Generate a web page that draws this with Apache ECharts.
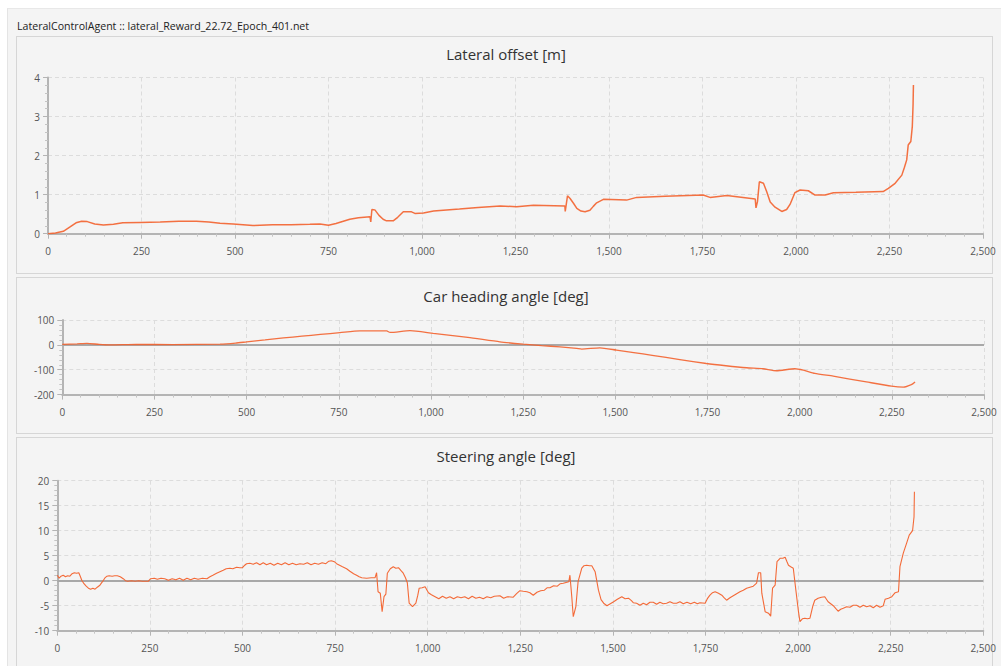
<!DOCTYPE html>
<html>
<head>
<meta charset="utf-8">
<script src="https://cdn.jsdelivr.net/npm/echarts@6/dist/echarts.min.js"></script>
<style>
  html, body { margin: 0; padding: 0; background: #ffffff; width: 1003px; height: 666px; overflow: hidden; font-family: "Open Sans", "Noto Sans", sans-serif; }
  #panel { position: absolute; left: 7px; top: 8px; width: 993px; height: 658px; background: #f4f4f4; border-left: 1px solid #e4e4e4; border-top: 1px solid #e8e8e8; }
  #caption { position: absolute; left: 17px; top: 19px; font-size: 10.6px; color: #222; white-space: nowrap; }
  .box { position: absolute; left: 16px; width: 975px; border: 1px solid #d6d6d6; box-sizing: content-box; }
  #chart { position: absolute; left: 0; top: 0; width: 1003px; height: 666px; }
</style>
</head>
<body>
<div id="panel"></div>
<div id="caption">LateralControlAgent :: lateral_Reward_22.72_Epoch_401.net</div>
<div class="box" style="top:36px;height:236px;"></div>
<div class="box" style="top:277px;height:155px;"></div>
<div class="box" style="top:437px;height:240px;"></div>
<div id="chart"></div>
<script>
// ---- data ----
const chartTitles = ["Lateral offset [m]", "Car heading angle [deg]", "Steering angle [deg]"];
const xTicks = [0, 250, 500, 750, 1000, 1250, 1500, 1750, 2000, 2250, 2500];

const lateralX = [0, 20, 41, 60, 75, 90, 105, 125, 148, 175, 200, 246, 300, 350, 397, 430, 460, 495, 548, 600, 650, 700, 727, 750, 770, 807, 830, 861, 863, 866, 874, 885, 896, 905, 923, 935, 950, 972, 981, 1004, 1031, 1100, 1150, 1209, 1253, 1298, 1382, 1383, 1389, 1396, 1405, 1414, 1425, 1436, 1449, 1458, 1467, 1485, 1547, 1574, 1650, 1752, 1770, 1815, 1891, 1893, 1897, 1902, 1913, 1922, 1931, 1944, 1962, 1975, 1984, 1997, 2011, 2033, 2051, 2078, 2100, 2160, 2233, 2247, 2265, 2283, 2290, 2296, 2300, 2307, 2311, 2313, 2314];
const lateralY = [0.0, 0.02, 0.06, 0.18, 0.28, 0.32, 0.31, 0.25, 0.22, 0.24, 0.28, 0.29, 0.30, 0.32, 0.32, 0.30, 0.27, 0.25, 0.21, 0.23, 0.23, 0.24, 0.25, 0.215, 0.26, 0.37, 0.41, 0.435, 0.30, 0.62, 0.61, 0.47, 0.37, 0.33, 0.33, 0.42, 0.56, 0.56, 0.52, 0.53, 0.58, 0.63, 0.67, 0.71, 0.69, 0.73, 0.71, 0.57, 0.97, 0.90, 0.78, 0.65, 0.58, 0.56, 0.60, 0.70, 0.79, 0.88, 0.86, 0.93, 0.96, 0.99, 0.93, 0.98, 0.89, 0.66, 0.82, 1.33, 1.29, 1.07, 0.81, 0.68, 0.57, 0.62, 0.75, 1.05, 1.12, 1.10, 0.99, 0.99, 1.05, 1.06, 1.08, 1.16, 1.29, 1.50, 1.70, 1.89, 2.27, 2.36, 2.75, 3.30, 3.81];

const headingX = [0, 40, 67, 100, 130, 200, 300, 428, 470, 500, 550, 600, 650, 700, 753, 807, 880, 889, 943, 1006, 1100, 1187, 1250, 1300, 1350, 1395, 1409, 1458, 1503, 1550, 1600, 1675, 1747, 1800, 1856, 1901, 1937, 1987, 2010, 2041, 2091, 2181, 2249, 2281, 2303, 2313];
const headingY = [2, 4, 6, 2, 0, 2, 1, 3, 7, 12, 20, 28, 35, 42, 49, 56, 56, 50, 57, 46, 30, 12, 3, -3, -8, -14, -17, -12, -21, -31, -42, -59, -75, -84, -92, -96, -104, -96, -102, -115, -126, -149, -166, -170, -160, -149];

const steeringX = [0, 5, 10, 16, 22, 28, 34, 40, 46, 52, 58, 62, 66, 72, 78, 84, 90, 96, 102, 108, 115, 122, 128, 134, 140, 148, 155, 162, 170, 178, 184, 190, 200, 210, 220, 230, 246, 252, 262, 270, 280, 290, 300, 310, 320, 330, 340, 350, 360, 370, 380, 392, 404, 412, 420, 430, 439, 448, 456, 466, 474, 484, 493, 500, 506, 511, 520, 529, 538, 547, 556, 565, 575, 585, 595, 605, 615, 625, 635, 645, 655, 665, 675, 685, 695, 705, 715, 725, 733, 740, 748, 754, 762, 770, 781, 790, 800, 808, 815, 822, 835, 848, 858, 862, 866, 872, 877, 882, 887, 891, 899, 907, 914, 921, 928, 934, 940, 945, 950, 959, 968, 973, 977, 985, 993, 1002, 1010, 1020, 1030, 1040, 1050, 1060, 1070, 1080, 1090, 1100, 1110, 1120, 1130, 1140, 1150, 1160, 1170, 1180, 1195, 1205, 1215, 1231, 1240, 1249, 1258, 1268, 1276, 1285, 1295, 1305, 1315, 1323, 1330, 1340, 1350, 1358, 1366, 1376, 1381, 1384, 1389, 1393, 1400, 1406, 1416, 1422, 1429, 1437, 1443, 1452, 1461, 1468, 1475, 1484, 1493, 1502, 1512, 1524, 1533, 1542, 1550, 1555, 1564, 1573, 1582, 1591, 1600, 1609, 1618, 1627, 1636, 1645, 1654, 1663, 1672, 1681, 1690, 1700, 1710, 1720, 1728, 1735, 1749, 1755, 1762, 1769, 1776, 1785, 1794, 1800, 1807, 1816, 1825, 1834, 1843, 1852, 1861, 1870, 1879, 1888, 1893, 1899, 1902, 1911, 1920, 1926, 1931, 1938, 1943, 1952, 1959, 1965, 1970, 1974, 1980, 1987, 1994, 2001, 2005, 2012, 2018, 2025, 2032, 2040, 2045, 2054, 2063, 2072, 2081, 2088, 2095, 2102, 2108, 2115, 2122, 2131, 2140, 2149, 2158, 2167, 2176, 2185, 2194, 2203, 2212, 2221, 2230, 2235, 2244, 2253, 2262, 2271, 2275, 2284, 2293, 2300, 2309, 2313, 2314];
const steeringY = [1.1, 0.5, 0.9, 1.1, 0.8, 1.0, 0.9, 1.4, 1.6, 1.5, 1.6, 0.9, 0.1, -0.6, -1.1, -1.5, -1.7, -1.5, -1.7, -1.3, -0.9, -0.2, 0.5, 0.9, 1.0, 0.9, 1.0, 1.0, 0.8, 0.4, 0.0, -0.1, 0.0, -0.1, 0.0, -0.1, -0.1, 0.4, 0.5, 0.3, 0.5, 0.4, 0.1, 0.4, 0.2, 0.5, 0.1, 0.5, 0.2, 0.5, 0.3, 0.5, 0.4, 0.8, 1.1, 1.5, 1.8, 2.1, 2.4, 2.5, 2.4, 2.7, 2.6, 2.6, 3.1, 3.4, 3.5, 3.3, 3.6, 3.2, 3.6, 3.2, 3.5, 3.1, 3.5, 3.2, 3.6, 3.2, 3.5, 3.2, 3.4, 3.3, 3.6, 3.2, 3.5, 3.3, 3.6, 3.4, 3.9, 4.0, 3.8, 3.4, 3.1, 2.8, 2.4, 1.9, 1.4, 1.1, 0.8, 0.6, 0.5, 0.6, 0.6, 1.6, -2.2, -2.5, -6.2, -3.2, -2.7, 1.5, 2.4, 2.8, 2.5, 2.6, 2.0, 1.5, 0.6, -0.4, -4.5, -5.2, -4.5, -3.0, -1.5, -1.4, -1.2, -2.4, -2.8, -3.2, -3.6, -3.1, -3.5, -3.2, -3.6, -3.2, -3.4, -3.2, -3.6, -3.1, -3.5, -3.3, -3.6, -3.2, -3.4, -3.1, -3.0, -3.5, -3.2, -3.3, -2.6, -2.0, -2.1, -2.2, -2.4, -2.9, -2.3, -2.0, -1.9, -1.4, -1.4, -1.0, -1.1, -0.6, -0.5, -0.3, -0.2, 1.1, -3.2, -7.2, -5.2, -0.2, 2.5, 3.0, 3.1, 3.0, 3.0, 1.8, -1.9, -3.8, -4.5, -5.0, -4.6, -4.2, -3.7, -3.2, -3.6, -3.5, -4.0, -4.4, -4.5, -4.9, -4.5, -4.8, -4.3, -4.3, -4.7, -4.3, -4.6, -4.5, -4.2, -4.5, -4.5, -4.2, -4.6, -4.3, -4.6, -4.3, -4.6, -4.4, -4.5, -3.6, -2.9, -2.4, -2.2, -2.5, -2.9, -3.4, -3.9, -3.4, -3.0, -2.6, -2.2, -1.9, -1.5, -1.3, -1.1, -0.5, 1.6, 1.6, -2.5, -6.2, -6.5, -7.1, -1.5, -0.9, 3.8, 4.5, 4.5, 4.7, 3.8, 3.1, 2.8, 2.5, -1.9, -6.2, -8.2, -7.6, -7.5, -7.6, -7.5, -5.0, -3.9, -3.5, -3.3, -3.2, -4.2, -4.6, -5.0, -5.6, -6.1, -5.7, -5.5, -5.2, -5.3, -4.9, -4.9, -5.3, -4.9, -5.2, -5.0, -5.4, -4.9, -5.3, -5.0, -3.7, -3.5, -3.2, -2.4, -2.2, 2.8, 5.5, 7.5, 9.1, 10.0, 12.8, 17.8];

const yRanges = [[0, 4, 1], [-200, 100, 100], [-10, 20, 5]];

// ---- chart ----
const zip = (xs, ys) => xs.map((x, i) => [x, ys[i]]);
const LINE = '#f3622d';
const grids = [
  { left: 48, right: 20, top: 77.5, height: 156.2 },
  { left: 62.3, right: 19, top: 320, height: 74.6 },
  { left: 57.3, right: 19.7, top: 480.7, height: 150 }
];
const titleTops = [46, 288, 448];

function xAxis(i) {
  return {
    type: 'value', gridIndex: i, min: 0, max: 2500, interval: 250,
    axisLine: { show: true, onZero: false, lineStyle: { color: '#b4b4b4', width: 2 } },
    axisTick: { show: true, length: 5, lineStyle: { color: '#b4b4b4', width: 1 } },
    minorTick: { show: true, splitNumber: 5, length: 3, lineStyle: { color: '#c4c4c4', width: 1 } },
    splitLine: { show: true, lineStyle: { color: '#dcdcdc', type: [4, 3], width: 1 } },
    axisLabel: { color: '#555', fontSize: 10, margin: 12, fontFamily: 'Open Sans',
      formatter: v => v.toLocaleString('en-US') }
  };
}
function yAxis(i) {
  const r = yRanges[i];
  return {
    type: 'value', gridIndex: i, min: r[0], max: r[1], interval: r[2],
    axisLine: { show: true, onZero: false, lineStyle: { color: '#b4b4b4', width: 2 } },
    axisTick: { show: true, length: 5, lineStyle: { color: '#b4b4b4', width: 1 } },
    minorTick: { show: true, splitNumber: 5, length: 3, lineStyle: { color: '#c4c4c4', width: 1 } },
    splitLine: { show: true, lineStyle: { color: '#dcdcdc', type: [4, 3], width: 1 } },
    axisLabel: { color: '#555', fontSize: 10, margin: 8, fontFamily: 'Open Sans' }
  };
}
const zeroLine = {
  silent: true, symbol: 'none', label: { show: false },
  lineStyle: { color: '#a8a8a8', width: 2, type: 'solid' },
  data: [{ yAxis: 0 }], z: 1
};
const option = {
  backgroundColor: 'transparent',
  animation: false,
  title: chartTitles.map((t, i) => ({
    text: t, left: 506, top: titleTops[i], textAlign: 'center', padding: 0,
    textStyle: { color: '#333', fontSize: 15, fontWeight: 'normal', fontFamily: 'Open Sans' }
  })),
  grid: grids,
  xAxis: [0, 1, 2].map(xAxis),
  yAxis: [0, 1, 2].map(yAxis),
  series: [
    { type: 'line', xAxisIndex: 0, yAxisIndex: 0, data: zip(lateralX, lateralY), showSymbol: false,
      lineStyle: { color: LINE, width: 1.5, opacity: 0.9 }, itemStyle: { color: LINE } },
    { type: 'line', xAxisIndex: 1, yAxisIndex: 1, data: zip(headingX, headingY), showSymbol: false,
      smooth: 0.2, lineStyle: { color: LINE, width: 1.3, opacity: 0.9 }, itemStyle: { color: LINE }, markLine: zeroLine, z: 3 },
    { type: 'line', xAxisIndex: 2, yAxisIndex: 2, data: zip(steeringX, steeringY), showSymbol: false,
      lineStyle: { color: LINE, width: 1.1, opacity: 0.95 }, itemStyle: { color: LINE }, markLine: zeroLine, z: 3 }
  ]
};
const chart = echarts.init(document.getElementById('chart'), null, { renderer: 'svg', width: 1003, height: 666 });
chart.setOption(option);
</script>
</body>
</html>
